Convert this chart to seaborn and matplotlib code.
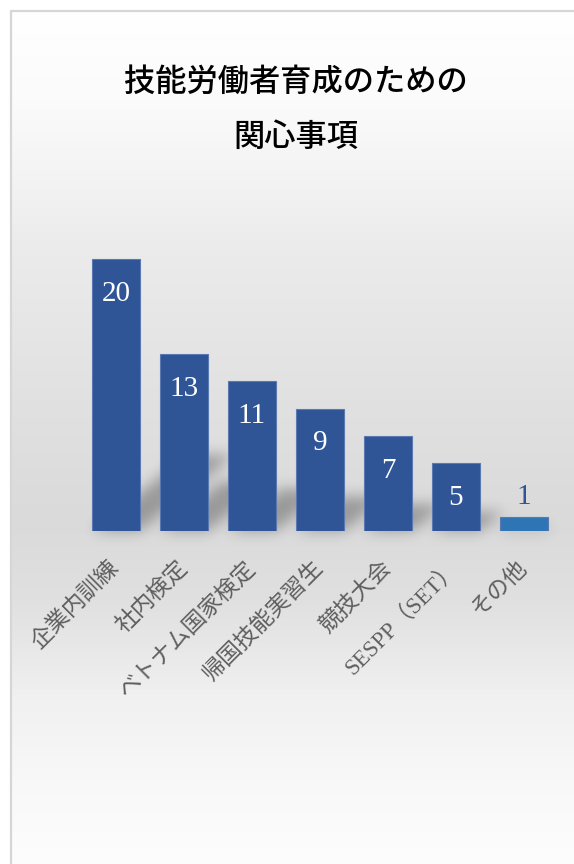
import numpy as np
import matplotlib
matplotlib.use("Agg")
import matplotlib.pyplot as plt
from matplotlib.collections import PolyCollection
from matplotlib.lines import Line2D
import seaborn as sns

# ---- data -------------------------------------------------------------
categories = ["企業内訓練", "社内検定", "ベトナム国家検定", "帰国技能実習生",
              "競技大会", "SESPP（SET）", "その他"]
counts = [20, 13, 11, 9, 7, 5, 1]
bar_colors = ["#2F5597", "#2F5597", "#2F5597", "#2F5597",
              "#2F5597", "#2F5597", "#2E75B6"]
title_lines = ["技能労働者育成のための", "関心事項"]

# ---- canvas -----------------------------------------------------------
W, H, DPI = 574, 864, 100
sns.set_theme(style="white")
plt.rcParams["font.family"] = ["Noto Sans CJK JP", "DejaVu Sans"]

fig = plt.figure(figsize=(W / DPI, H / DPI), dpi=DPI, facecolor="white")

# panel background: soft vertical grey gradient
bg = fig.add_axes([11 / W, 0, 1 - 11 / W, 1 - 11 / H])
rows = np.arange(11, H)
stop_y = [11, 100, 190, 240, 400, 520, 600, 700, 780, 864]
stop_v = [255, 251, 242, 236, 225, 218, 224, 241, 248, 253]
grey = np.interp(rows, stop_y, stop_v) / 255.0
grad = np.repeat(grey[:, None, None], 3, axis=2)
bg.imshow(grad, aspect="auto", interpolation="bilinear")
bg.axis("off")

# panel frame (left and top edges)
fig.add_artist(Line2D([10.5 / W, 10.5 / W], [0, 1 - 10.5 / H],
                      transform=fig.transFigure, color="#d6d6d6", lw=1.6))
fig.add_artist(Line2D([10.5 / W, 1], [1 - 10.5 / H, 1 - 10.5 / H],
                      transform=fig.transFigure, color="#d6d6d6", lw=1.6))

# ---- title ------------------------------------------------------------
fig.text(296 / W, 1 - 82 / H, title_lines[0], ha="center", va="center",
         fontsize=22.5, color="black", weight="medium")
fig.text(296 / W, 1 - 137 / H, title_lines[1], ha="center", va="center",
         fontsize=22.5, color="black", weight="medium")

# ---- bars ---------------------------------------------------------------
ax = fig.add_axes([82 / W, (H - 531) / H, 476 / W, 340 / H])
ax.patch.set_visible(False)


def soft_shadow(im, dpi, sigma=5.0, alpha=0.55):
    pad = int(sigma * 3)
    a = np.pad(im[:, :, 3], pad)
    k = np.exp(-0.5 * (np.arange(-pad, pad + 1) / sigma) ** 2)
    k /= k.sum()
    a = np.apply_along_axis(lambda r: np.convolve(r, k, mode="same"), 0, a)
    a = np.apply_along_axis(lambda r: np.convolve(r, k, mode="same"), 1, a)
    out = np.zeros(a.shape + (4,))
    out[..., 3] = a * alpha
    return out, -pad, -pad


# slanted perspective shadows behind each bar
half = 0.35
shadow_polys = []
for i, v in enumerate(counts):
    sh, sk = 0.28 * v, 0.07 * v
    shadow_polys.append([(i - half, 0), (i + half, 0),
                         (i + half + sk, sh), (i - half + sk, sh)])
shadows = PolyCollection(shadow_polys, facecolor="black", edgecolor="none",
                         zorder=0.5)
shadows.set_agg_filter(soft_shadow)
ax.add_collection(shadows)

sns.barplot(x=categories, y=counts, hue=categories, palette=bar_colors,
            saturation=1, width=0.7, legend=False, ax=ax,
            edgecolor="#5a79b2", linewidth=0.8, zorder=2)

ax.set_xlim(-0.5, 6.5)
ax.set_ylim(0, 25)
ax.set_yticks([])
ax.set_xlabel("")
ax.set_ylabel("")
sns.despine(ax=ax, left=True, bottom=True)

# value labels
for i, v in enumerate(counts):
    inside = v >= 3
    ax.annotate(str(v), xy=(i, v), xytext=(0, -25 if inside else 15),
                textcoords="offset points", ha="center", va="center",
                fontsize=21, family="Liberation Serif",
                color="white" if inside else "#2F5597", zorder=3)

# category labels
ax.set_xticks(range(len(categories)))
ax.set_xticklabels(categories, rotation=45, ha="right", va="center",
                   rotation_mode="anchor", fontsize=16.5, color="#5f5f5f",
                   family=["Liberation Serif", "Noto Sans CJK JP"])
ax.tick_params(axis="x", length=0, pad=24)

fig.savefig("out.png", dpi=DPI, facecolor="white")
